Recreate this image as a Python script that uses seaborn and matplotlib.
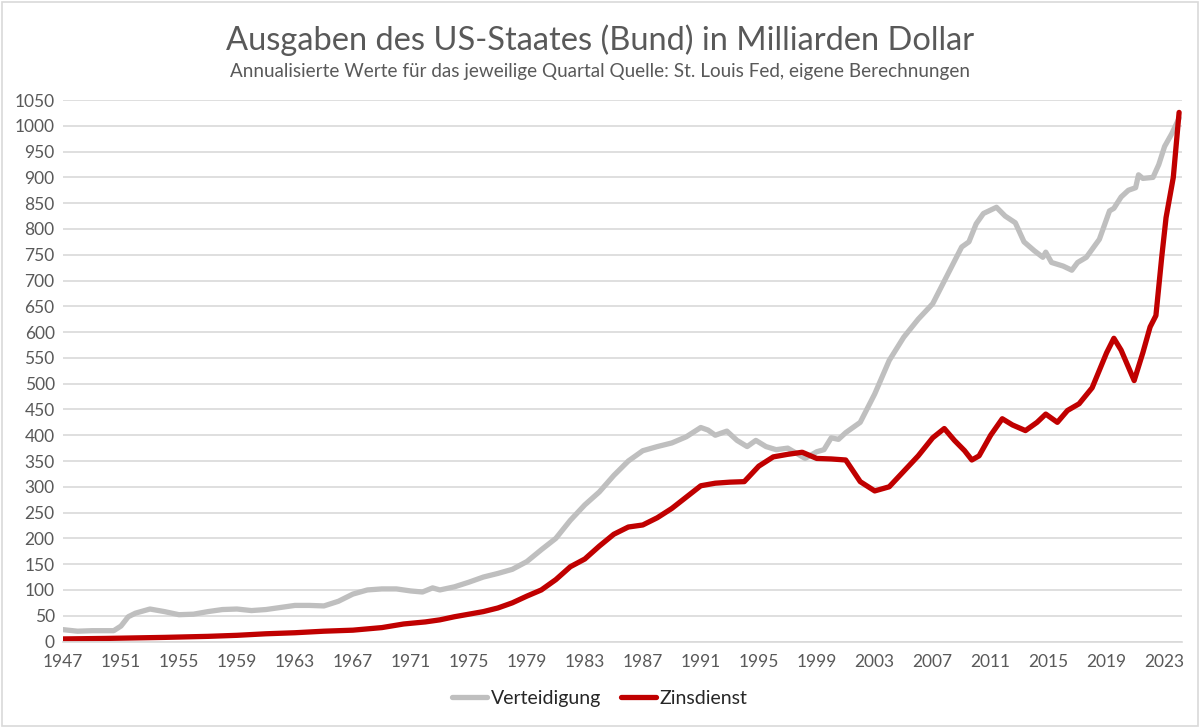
import numpy as np
import pandas as pd
import seaborn as sns
import matplotlib.pyplot as plt
from matplotlib.lines import Line2D
from matplotlib.patches import Rectangle

vert_jahr = [1947.0, 1948.0, 1949.0, 1950.0, 1950.5, 1951.0, 1951.5, 1952.0, 1953.0, 1954.0,
             1955.0, 1956.0, 1957.0, 1958.0, 1959.0, 1960.0, 1961.0, 1962.0, 1963.0, 1964.0,
             1965.0, 1966.0, 1967.0, 1968.0, 1969.0, 1970.0, 1971.0, 1971.8, 1972.5, 1973.0,
             1974.0, 1975.0, 1976.0, 1977.0, 1978.0, 1979.0, 1980.0, 1981.0, 1982.0, 1983.0,
             1984.0, 1985.0, 1986.0, 1987.0, 1988.0, 1989.0, 1990.0, 1991.0, 1991.5, 1992.0,
             1992.8, 1993.5, 1994.2, 1994.8, 1995.5, 1996.2, 1997.0, 1998.2, 1999.0, 1999.5,
             2000.0, 2000.5, 2001.0, 2002.0, 2003.0, 2004.0, 2005.0, 2006.0, 2007.0, 2008.0,
             2009.0, 2009.5, 2010.0, 2010.5, 2011.4, 2012.0, 2012.7, 2013.3, 2014.0, 2014.6,
             2014.8, 2015.2, 2016.0, 2016.6, 2017.0, 2017.6, 2018.5, 2019.2, 2019.5, 2020.0,
             2020.5, 2021.0, 2021.2, 2021.5, 2022.2, 2022.6, 2023.0, 2023.5, 2024.0]
verteidigung = [23, 20, 21, 21, 21, 30, 48, 55, 63, 58,
                52, 53, 58, 62, 63, 60, 62, 66, 70, 70,
                69, 78, 92, 100, 102, 102, 98, 96, 104, 100,
                106, 115, 125, 132, 140, 155, 178, 200, 235, 265,
                290, 322, 350, 370, 378, 385, 397, 415, 410, 400,
                408, 390, 378, 390, 378, 372, 375, 355, 368, 372,
                395, 392, 405, 425, 480, 545, 590, 625, 655, 710,
                765, 775, 810, 830, 842, 825, 812, 775, 758, 745,
                755, 735, 728, 720, 735, 745, 780, 835, 840, 862,
                875, 880, 905, 898, 900, 925, 960, 985, 1015]

zins_jahr = [1947, 1950, 1954, 1957, 1959, 1961, 1963, 1965, 1967, 1969,
             1970.5, 1972, 1973, 1974, 1975, 1976, 1977, 1978, 1979, 1980,
             1981, 1982, 1983, 1984, 1985, 1986, 1987, 1988, 1989, 1990,
             1991, 1992, 1993, 1994, 1995, 1996, 1997, 1998, 1999, 2000,
             2001, 2002, 2003, 2004, 2005, 2006, 2007, 2007.8, 2008.5, 2009.2,
             2009.7, 2010.2, 2011.0, 2011.8, 2012.5, 2013.4, 2014.2, 2014.8, 2015.6, 2016.3,
             2017.1, 2018.0, 2019.0, 2019.5, 2020.0, 2020.9, 2021.5, 2022.0, 2022.4, 2022.8,
             2023.1, 2023.6, 2024.0]
zinsdienst = [5, 6, 8, 10, 12, 15, 17, 20, 22, 27,
              34, 38, 42, 48, 53, 58, 65, 75, 88, 100,
              120, 145, 160, 185, 208, 222, 226, 240, 258, 280,
              302, 307, 309, 310, 340, 358, 363, 367, 355, 354,
              352, 310, 292, 300, 330, 360, 395, 413, 390, 370,
              352, 360, 400, 432, 420, 409, 425, 441, 425, 448,
              461, 492, 560, 588, 565, 506, 560, 610, 632, 745,
              822, 900, 1026]

xticks = list(range(1947, 2024, 4))
yticks = list(range(0, 1051, 50))

df = pd.concat([
    pd.DataFrame({"Jahr": vert_jahr, "Wert": verteidigung, "Serie": "Verteidigung"}),
    pd.DataFrame({"Jahr": zins_jahr, "Wert": zinsdienst, "Serie": "Zinsdienst"}),
])

sns.set_style("white")
plt.rcParams['font.family'] = ['Lato', 'DejaVu Sans']

farben = {"Verteidigung": "#bfbfbf", "Zinsdienst": "#c00000"}

fig = plt.figure(figsize=(12, 7.28), dpi=100)
ax = fig.add_axes([0.0525, 0.1188, 0.9325, 0.7438])
sns.lineplot(data=df, x="Jahr", y="Wert", hue="Serie", palette=farben,
             linewidth=3.8, ax=ax, legend=False)

ax.set_xlim(1947, 2024.2)
ax.set_ylim(0, 1050)
ax.set_xticks(xticks)
ax.set_yticks(yticks)
ax.set_xlabel("")
ax.set_ylabel("")
ax.tick_params(axis='both', length=0, labelsize=12.5, colors='#595959')
ax.tick_params(axis='x', pad=9)
ax.tick_params(axis='y', pad=6)
ax.grid(axis='y', color='#d9d9d9', linewidth=1.2)
ax.set_axisbelow(True)
for s in ['top', 'right', 'left']:
    ax.spines[s].set_visible(False)
ax.spines['bottom'].set_color('#d9d9d9')
ax.spines['bottom'].set_linewidth(1.2)

fig.text(0.5, 0.945, "Ausgaben des US-Staates (Bund) in Milliarden Dollar",
         ha='center', va='center', fontsize=23.5, color='#595959')
fig.text(0.5, 0.902, "Annualisierte Werte für das jeweilige Quartal Quelle: St. Louis Fed, eigene Berechnungen",
         ha='center', va='center', fontsize=13.6, color='#595959')

handles = [Line2D([], [], color=farben[k], linewidth=3.8) for k in farben]
fig.legend(handles, list(farben.keys()), loc='center', bbox_to_anchor=(0.5, 0.041),
           ncol=2, frameon=False, fontsize=14, handlelength=1.8, handletextpad=0.2,
           columnspacing=1.0)

fig.patches.append(Rectangle((0.002, 0.003), 0.996, 0.994, transform=fig.transFigure,
                             fill=False, edgecolor='#d9d9d9', linewidth=1.2))

fig.savefig("out.png", dpi=100, facecolor='white')
